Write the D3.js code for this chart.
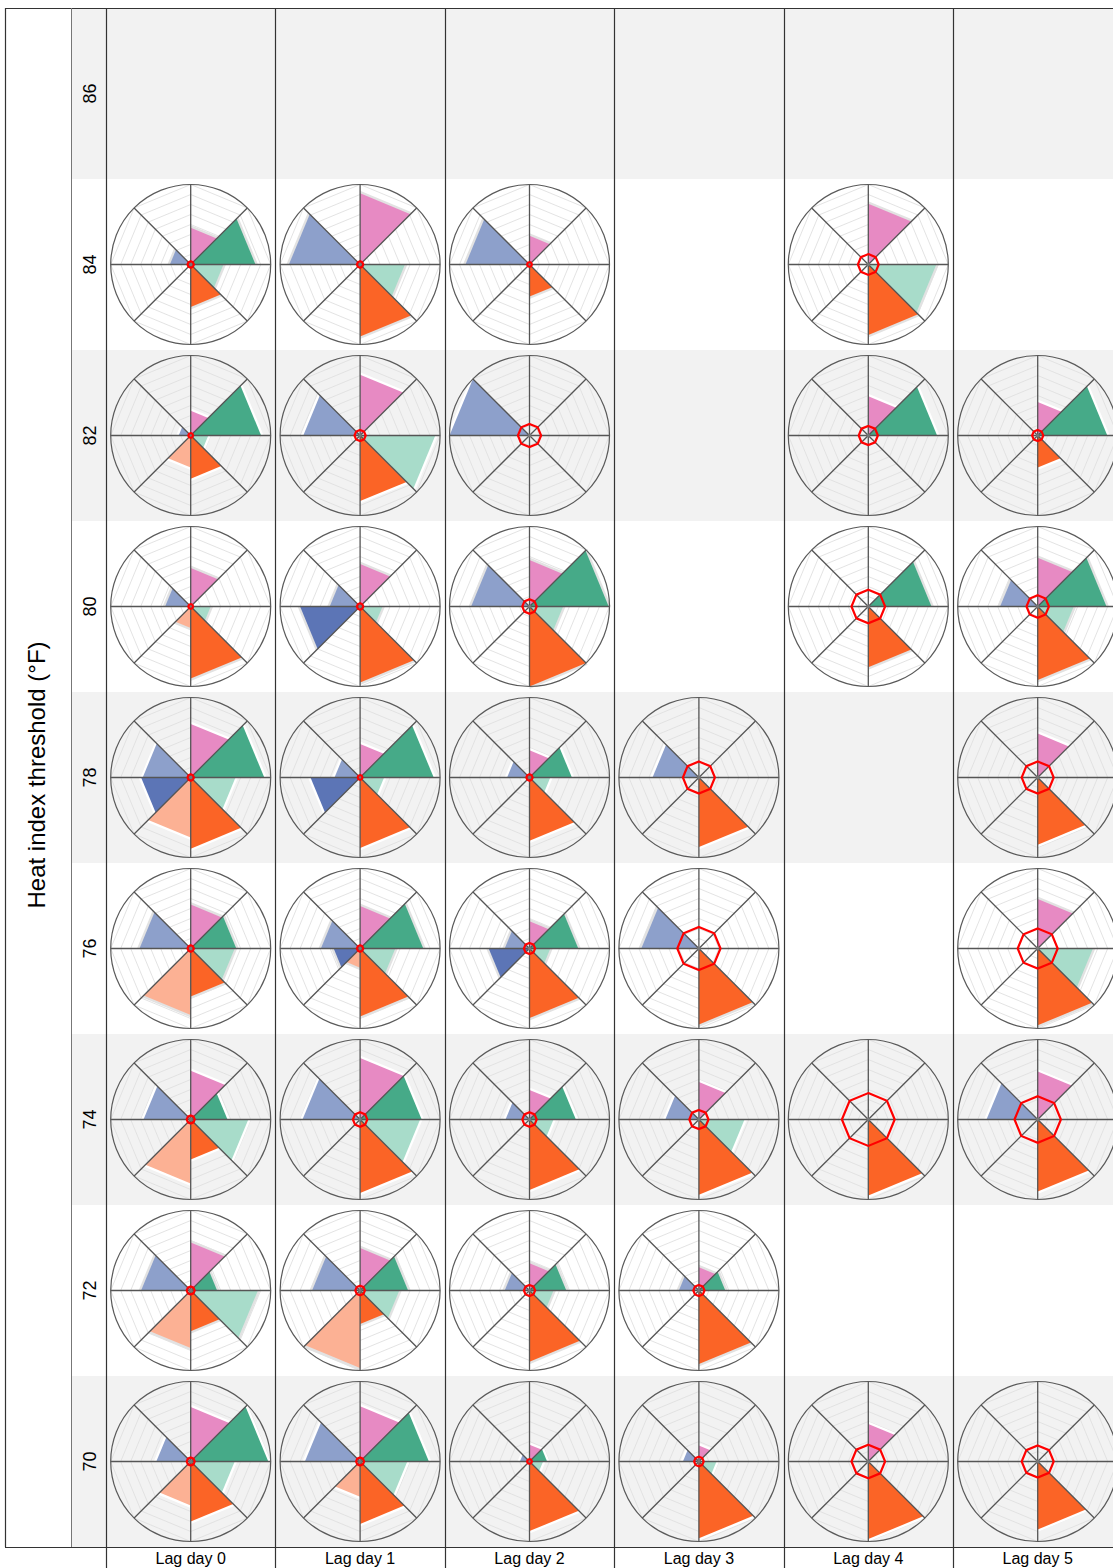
<!DOCTYPE html>
<html>
<head>
<meta charset="utf-8">
<script src="https://cdn.jsdelivr.net/npm/d3@7"></script>
<style>
  body { margin: 0; background: #fff; }
  text { font-family: "Liberation Sans", Arial, sans-serif; fill: #000; }
</style>
</head>
<body>
<div id="chart"></div>
<script>
// heat index thresholds (rows, top to bottom) and lag days (columns)
const thresholds = [86, 84, 82, 80, 78, 76, 74, 72, 70];
const lagDays = [0, 1, 2, 3, 4, 5];
const lagLabels = ["Lag day 0", "Lag day 1", "Lag day 2", "Lag day 3", "Lag day 4", "Lag day 5"];

// 8 sectors, clockwise from north
const sectorColors = ["#e78ac3", "#46aa88", "#a8dcca", "#fb6426", "#fcb194", "#5c75b6", "#8da0cb", "#cccccc"];

// wedge sizes per cell (share of the outer radius), null = no chart in that cell
const values86 = [null, null, null, null, null, null];
const values84 = [
  [0.46, 0.81, 0.41, 0.53, 0, 0, 0.26, 0],
  [0.89, 0, 0.56, 0.9, 0, 0, 0.89, 0],
  [0.36, 0, 0, 0.4, 0, 0, 0.8, 0],
  null,
  [0.76, 0, 0.85, 0.88, 0, 0, 0, 0],
  null
];
const values82 = [
  [0.31, 0.88, 0.22, 0.54, 0.4, 0, 0.15, 0],
  [0.76, 0, 0.94, 0.82, 0, 0, 0.71, 0],
  [0, 0, 0, 0, 0, 0, 1.0, 0],
  null,
  [0.49, 0.86, 0, 0, 0, 0, 0, 0],
  [0.42, 0.87, 0, 0.4, 0, 0, 0, 0]
];
const values80 = [
  [0.48, 0, 0.25, 0.9, 0.27, 0, 0.32, 0],
  [0.53, 0, 0.28, 0.95, 0, 0.75, 0.38, 0],
  [0.58, 0.99, 0.42, 1.0, 0, 0, 0.73, 0],
  null,
  [0, 0.79, 0, 0.76, 0, 0, 0, 0],
  [0.61, 0.86, 0.45, 0.92, 0, 0, 0.47, 0]
];
const values78 = [
  [0.67, 0.92, 0.56, 0.89, 0.75, 0.62, 0.6, 0],
  [0.42, 0.92, 0.3, 0.88, 0, 0.62, 0.32, 0],
  [0.34, 0.53, 0.26, 0.79, 0, 0, 0.28, 0],
  [0, 0, 0, 0.87, 0, 0, 0.58, 0],
  null,
  [0.55, 0, 0, 0.84, 0, 0, 0, 0]
];
const values76 = [
  [0.55, 0.57, 0.55, 0.6, 0.83, 0, 0.64, 0],
  [0.53, 0.79, 0.44, 0.85, 0.24, 0.33, 0.49, 0],
  [0.34, 0.61, 0.26, 0.87, 0, 0.51, 0.31, 0],
  [0, 0, 0, 0.95, 0, 0, 0.72, 0],
  null,
  [0.62, 0, 0.69, 0.96, 0, 0, 0, 0]
];
const values74 = [
  [0.61, 0.46, 0.72, 0.5, 0.8, 0, 0.59, 0],
  [0.77, 0.77, 0.75, 0.92, 0, 0, 0.72, 0],
  [0.37, 0.58, 0.3, 0.88, 0, 0, 0.3, 0],
  [0.47, 0, 0.57, 0.94, 0, 0, 0.42, 0],
  [0, 0, 0, 0.95, 0, 0, 0, 0],
  [0.6, 0, 0, 0.9, 0, 0, 0.64, 0]
];
const values72 = [
  [0.6, 0.33, 0.84, 0.51, 0.72, 0, 0.62, 0],
  [0.53, 0.6, 0.49, 0.42, 0.97, 0, 0.6, 0],
  [0.34, 0.46, 0.3, 0.89, 0, 0, 0.31, 0],
  [0.29, 0.33, 0, 0.92, 0, 0, 0.25, 0],
  null,
  null
];
const values70 = [
  [0.68, 0.97, 0.55, 0.75, 0.55, 0, 0.43, 0],
  [0.69, 0.86, 0.59, 0.78, 0.44, 0, 0.69, 0],
  [0.21, 0.22, 0.17, 0.87, 0, 0, 0.12, 0],
  [0.2, 0, 0.22, 0.96, 0, 0, 0.2, 0],
  [0.47, 0, 0, 0.97, 0, 0, 0, 0],
  [0, 0, 0, 0.85, 0, 0, 0, 0]
];

// red reference octagon per cell
const ring86 = [null, null, null, null, null, null];
const ring84 = [0.04, 0.04, 0.03, null, 0.13, null];
const ring82 = [0.03, 0.07, 0.145, null, 0.12, 0.07];
const ring80 = [0.03, 0.04, 0.09, null, 0.21, 0.14];
const ring78 = [0.04, 0.03, 0.04, 0.2, null, 0.2];
const ring76 = [0.04, 0.04, 0.07, 0.27, null, 0.25];
const ring74 = [0.05, 0.09, 0.09, 0.12, 0.33, 0.29];
const ring72 = [0.05, 0.06, 0.07, 0.07, null, null];
const ring70 = [0.05, 0.05, 0.03, 0.06, 0.21, 0.2];

const valuesByRow = [values86, values84, values82, values80, values78, values76, values74, values72, values70];
const ringsByRow = [ring86, ring84, ring82, ring80, ring78, ring76, ring74, ring72, ring70];

const width = 1113, height = 1568;
const colW = 169.4;
const panelLeft = 106, panelTop = 8, panelBottom = 1547;
const R = 80;

const svg = d3.select("#chart").append("svg")
  .attr("width", width)
  .attr("height", height);

const x = d3.scaleBand().domain(lagDays).range([panelLeft, panelLeft + colW * lagDays.length]);
const y = d3.scaleBand().domain(thresholds).range([panelTop, panelBottom]);
const r = d3.scaleLinear().domain([0, 1]).range([0, R]);
const angle = d3.scaleLinear().domain([0, 8]).range([0, 2 * Math.PI]);

const radial = d3.lineRadial()
  .angle(d => d[0])
  .radius(d => d[1])
  .curve(d3.curveLinearClosed);

// row backgrounds (alternating)
svg.selectAll("rect.rowbg")
  .data(thresholds)
  .join("rect")
  .attr("class", "rowbg")
  .attr("x", 71)
  .attr("y", d => y(d))
  .attr("width", width - 71)
  .attr("height", y.bandwidth())
  .attr("fill", (d, i) => i % 2 === 0 ? "#f2f2f2" : "#ffffff");

// one small radar per cell
thresholds.forEach((t, ri) => {
  const shadowFill = ri % 2 === 0 ? "#ffffff" : "#e2e2e2";
  lagDays.forEach(lag => {
    const vals = valuesByRow[ri][lag];
    if (!vals) return;
    const ring = ringsByRow[ri][lag];
    const g = svg.append("g")
      .attr("transform", `translate(${x(lag) + x.bandwidth() / 2}, ${y(t) + y.bandwidth() / 2})`);

    // grid octagons
    d3.range(1, 9).forEach(k => {
      g.append("path")
        .attr("d", radial(d3.range(8).map(s => [angle(s), r(k / 8)])))
        .attr("fill", "none")
        .attr("stroke", "#e0e0e0")
        .attr("stroke-width", 0.9);
    });

    // wedge shadows then wedges
    vals.forEach((v, s) => {
      if (!v) return;
      g.append("path")
        .attr("d", radial([[0, 0], [angle(s), r(v) + 2.5], [angle(s + 1), r(v) + 2.5]]))
        .attr("fill", shadowFill);
    });
    vals.forEach((v, s) => {
      if (!v) return;
      g.append("path")
        .attr("d", radial([[0, 0], [angle(s), r(v)], [angle(s + 1), r(v)]]))
        .attr("fill", sectorColors[s]);
    });

    // spokes
    d3.range(8).forEach(s => {
      const a = angle(s);
      g.append("line")
        .attr("x1", 0).attr("y1", 0)
        .attr("x2", R * Math.sin(a))
        .attr("y2", -R * Math.cos(a))
        .attr("stroke", "#555")
        .attr("stroke-width", 1.3);
    });

    // outer circle
    g.append("circle")
      .attr("r", R)
      .attr("fill", "none")
      .attr("stroke", "#5a5a5a")
      .attr("stroke-width", 1.2);

    g.append("circle")
      .attr("r", 1.8)
      .attr("fill", "#777");

    // red reference octagon
    if (ring != null) {
      g.append("path")
        .attr("d", radial(d3.range(8).map(s => [angle(s), r(ring)])))
        .attr("fill", "none")
        .attr("stroke", "#ff0000")
        .attr("stroke-width", 2.2);
    }
  });
});

// frame lines
const lineColor = "#333";
svg.append("line").attr("x1", 5).attr("x2", width).attr("y1", 8.5).attr("y2", 8.5)
  .attr("stroke", lineColor).attr("stroke-width", 1.2);
svg.append("line").attr("x1", 5.5).attr("x2", 5.5).attr("y1", 8).attr("y2", panelBottom)
  .attr("stroke", lineColor).attr("stroke-width", 1.2);
svg.append("line").attr("x1", 5).attr("x2", width).attr("y1", panelBottom + 0.5).attr("y2", panelBottom + 0.5)
  .attr("stroke", lineColor).attr("stroke-width", 1.2);
svg.append("line").attr("x1", 71.5).attr("x2", 71.5).attr("y1", 8).attr("y2", panelBottom)
  .attr("stroke", "#777").attr("stroke-width", 1);

// column separators (run through the label strip)
svg.selectAll("line.colsep")
  .data(lagDays)
  .join("line")
  .attr("class", "colsep")
  .attr("x1", d => Math.round(x(d)) + 0.5)
  .attr("x2", d => Math.round(x(d)) + 0.5)
  .attr("y1", 8)
  .attr("y2", height)
  .attr("stroke", lineColor)
  .attr("stroke-width", 1.2);

// row labels
svg.selectAll("text.rowlab")
  .data(thresholds)
  .join("text")
  .attr("class", "rowlab")
  .attr("transform", d => `translate(96, ${y(d) + y.bandwidth() / 2}) rotate(-90)`)
  .attr("text-anchor", "middle")
  .style("font-size", "18px")
  .text(d => d);

// column labels
svg.selectAll("text.collab")
  .data(lagDays)
  .join("text")
  .attr("class", "collab")
  .attr("x", d => x(d) + x.bandwidth() / 2)
  .attr("y", 1564)
  .attr("text-anchor", "middle")
  .style("font-size", "16px")
  .text((d, i) => lagLabels[i]);

// y title
svg.append("text")
  .attr("transform", `translate(45, 775) rotate(-90)`)
  .attr("text-anchor", "middle")
  .style("font-size", "24px")
  .text("Heat index threshold (°F)");
</script>
</body>
</html>
